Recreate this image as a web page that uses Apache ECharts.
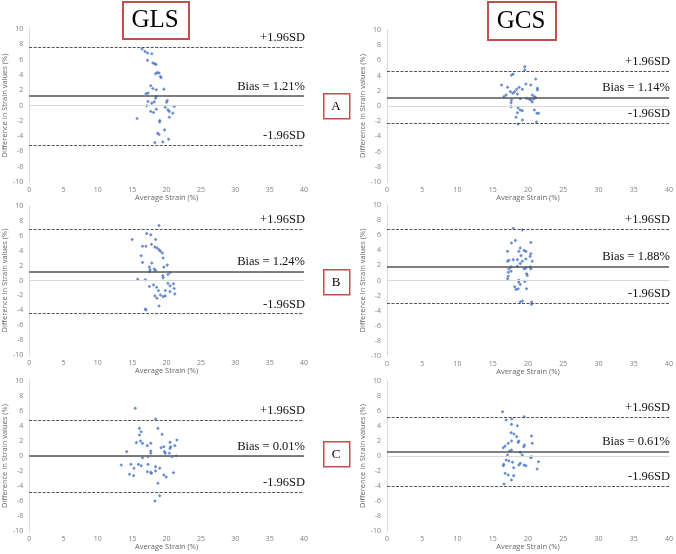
<!DOCTYPE html>
<html>
<head>
<meta charset="utf-8">
<script src="https://cdn.jsdelivr.net/npm/echarts@6/dist/echarts.min.js"></script>
<style>html,body{margin:0;padding:0;background:#fff}#c{width:676px;height:554px}</style>
</head>
<body>
<div id="c"></div>
<script>
// ---------------- DATA ----------------
const xTickMin = 0, xTickMax = 40, xTickStep = 5;
const yTickMin = -10, yTickMax = 10, yTickStep = 2;
const columnTitles = ["GLS", "GCS"];
const rowLabels = ["A", "B", "C"];
const xAxisTitle = "Average Strain (%)";
const yAxisTitle = "Difference in Strain values (%)";

// GLS A
const glsA_x = [16.43,16.86,17.23,17.85,17.23,18.0,18.27,18.46,18.65,18.4,18.9,19.1,19.2,17.7,18.0,18.5,19.6,17.3,17.0,18.4,18.5,20.1,20.0,17.3,17.85,18.2,17.1,21.1,19.8,18.5,20.2,20.4,17.7,18.1,20.9,20.4,15.7,19.0,19.0,19.7,18.7,18.9,20.3,19.45,18.3];
const glsA_y = [7.38,7.07,6.86,6.77,5.9,5.55,5.46,5.37,4.32,4.15,4.24,3.8,3.62,2.58,2.23,2.05,2.14,1.62,1.53,0.96,1.18,0.66,0.44,0.52,0.31,0.48,-0.04,-0.13,-0.22,-0.48,-0.57,-0.79,-0.79,-0.92,-1.0,-1.53,-1.7,-1.97,-2.14,-3.19,-3.62,-3.8,-4.41,-4.76,-4.85];
const glsA_limits = [7.59, 1.21, -5.17]; // +1.96SD, bias, -1.96SD

// GCS A
const gcsA_x = [19.55,19.55,17.9,17.66,21.1,16.24,19.7,20.4,17.1,18.74,21.34,21.34,19.2,18.4,17.5,18.1,17.85,16.9,18.5,16.6,20.6,20.9,19.8,20.2,20.4,20.8,21.1,18.9,17.66,17.6,20.6,17.6,18.6,18.9,19.2,20.9,18.5,21.25,21.5,18.3,19.2,21.2,18.6];
const gcsA_y = [5.18,4.74,4.21,4.04,3.55,2.76,2.89,2.76,2.46,2.46,2.32,2.1,2.19,2.19,1.89,1.89,1.67,1.45,1.58,1.23,1.45,1.23,1.0,0.88,0.79,0.92,1.1,0.96,0.79,0.44,0.53,-0.09,-0.26,-0.53,-0.61,-0.53,-0.88,-0.96,-0.96,-1.49,-1.84,-2.1,-2.37];
const gcsA_limits = [4.60, 1.14, -2.32];

// GLS B
const glsB_x = [18.9,17.1,17.7,15.0,18.4,17.8,16.5,17.0,18.3,18.6,18.9,19.1,19.4,16.3,19.5,16.5,17.85,20.1,19.6,17.5,17.6,18.2,18.4,17.5,20.5,20.2,19.45,19.5,15.8,16.9,20.2,21.0,18.1,20.5,17.5,18.55,21.1,18.8,19.8,20.5,21.2,19.1,18.3,18.6,19.5,19.8,18.9,16.9,17.0];
const glsB_y = [7.39,6.3,6.13,5.5,5.5,4.86,4.6,4.6,4.5,4.37,4.14,3.92,3.7,3.33,3.02,2.43,2.34,2.07,1.8,1.8,1.44,1.53,1.35,1.17,1.08,0.81,0.63,0.36,0.18,0.09,-0.36,-0.45,-0.59,-0.72,-0.81,-0.9,-1.08,-1.35,-1.35,-1.49,-1.8,-1.94,-2.07,-2.39,-2.16,-2.07,-3.42,-3.83,-3.96];
const glsB_limits = [6.94, 1.24, -4.46];

// GCS B
const gcsB_x = [17.9,19.2,18.2,17.66,20.4,18.9,18.7,19.45,19.7,17.1,20.4,20.3,19.0,19.7,18.5,17.9,17.3,17.1,19.2,20.6,18.9,17.6,18.5,19.7,19.45,20.3,20.4,17.3,17.2,17.6,19.8,19.9,17.2,17.1,18.7,18.7,19.55,18.9,18.1,18.6,18.3,19.8,19.2,18.9,20.5,20.5];
const gcsB_y = [6.93,6.71,5.31,4.96,5.04,4.3,3.86,3.99,3.86,3.86,3.55,3.2,3.29,2.85,2.76,2.76,2.68,2.54,2.54,2.54,2.24,1.8,1.89,1.67,1.54,1.8,1.54,1.54,1.1,1.23,0.88,0.66,0.57,0.22,0.04,-0.22,-0.13,-0.53,-0.83,-1.1,-1.18,-1.1,-2.72,-2.85,-2.85,-3.16];
const gcsB_limits = [6.75, 1.88, -2.99];

// GLS C
const glsC_x = [15.44,18.4,16.05,18.74,16.3,16.05,19.35,21.5,16.2,15.6,16.5,17.7,20.5,17.2,21.2,19.6,19.2,20.6,20.5,17.7,14.2,19.7,19.8,20.4,17.7,16.5,17.3,21.4,20.8,13.4,14.8,15.9,17.3,16.3,18.4,15.25,19.0,18.4,17.2,17.7,17.8,21.0,14.6,15.2,19.6,19.95,18.74,19.0,18.3];
const glsC_y = [6.36,4.93,3.69,3.69,3.24,2.8,2.89,2.13,2.0,1.78,1.69,1.69,1.82,1.38,1.38,1.24,1.11,1.24,1.02,0.67,0.58,0.58,0.36,0.36,0.36,-0.22,-0.09,0.0,-0.09,-1.2,-1.11,-1.11,-1.11,-1.29,-1.42,-1.64,-1.64,-2.0,-2.09,-2.18,-2.31,-2.22,-2.44,-2.62,-2.53,-2.8,-3.64,-5.29,-6.0];
const glsC_limits = [4.81, 0.01, -4.79];

// GCS C
const gcsC_x = [16.4,19.45,16.9,17.7,17.66,18.5,17.6,18.0,18.4,20.5,18.7,17.66,17.2,18.6,20.6,19.5,19.4,16.5,16.75,17.66,17.4,18.9,17.1,19.2,20.5,20.4,16.9,17.3,17.8,21.5,18.9,16.55,18.7,19.45,19.7,16.5,17.97,21.3,16.75,17.2,17.97,17.66,16.6];
const gcsC_y = [5.91,5.24,4.8,4.93,4.22,4.04,3.11,2.93,2.58,2.67,2.0,2.0,1.69,1.82,1.69,1.47,1.24,1.11,1.33,0.8,0.67,0.49,0.13,0.13,-0.09,-0.22,-0.53,-0.67,-0.84,-0.76,-0.98,-1.11,-1.2,-1.2,-1.29,-1.29,-1.56,-1.73,-2.31,-2.53,-2.62,-3.2,-3.73];
const gcsC_limits = [5.21, 0.61, -3.99];

// ---------------- LAYOUT ----------------
const panels = [
  {x: glsA_x, y: glsA_y, lim: glsA_limits, left: 22,  top: 29,  width: 282, height: 153},
  {x: gcsA_x, y: gcsA_y, lim: gcsA_limits, left: 387, top: 30,  width: 283, height: 152},
  {x: glsB_x, y: glsB_y, lim: glsB_limits, left: 22,  top: 206, width: 282, height: 149},
  {x: gcsB_x, y: gcsB_y, lim: gcsB_limits, left: 387, top: 205, width: 283, height: 151},
  {x: glsC_x, y: glsC_y, lim: glsC_limits, left: 22,  top: 381, width: 282, height: 150},
  {x: gcsC_x, y: gcsC_y, lim: gcsC_limits, left: 387, top: 381, width: 283, height: 150}
];

const serif = '"Liberation Serif","Times New Roman",serif';
const sans = '"Open Sans","Liberation Sans",sans-serif';
const tickColor = '#808080';

const grid = [], xAxis = [], yAxis = [], series = [];
panels.forEach((p, i) => {
  grid.push({left: p.left, top: p.top, width: p.width, height: p.height});
  xAxis.push({
    type: 'value', gridIndex: i, min: xTickMin, max: xTickMax, interval: xTickStep,
    axisLine: {show: false}, axisTick: {show: false}, splitLine: {show: false},
    axisLabel: {color: tickColor, fontSize: 7, fontFamily: sans, margin: 4},
    name: xAxisTitle, nameLocation: 'middle', nameGap: 11,
    nameTextStyle: {color: '#666', fontSize: 7.5, fontFamily: sans}
  });
  yAxis.push({
    type: 'value', gridIndex: i, min: yTickMin, max: yTickMax, interval: yTickStep,
    axisLine: {show: true, lineStyle: {color: '#d9d9d9', width: 1}},
    axisTick: {show: false}, splitLine: {show: false},
    axisLabel: {color: tickColor, fontSize: 7, fontFamily: sans, margin: 6},
    name: yAxisTitle, nameLocation: 'middle', nameGap: 14, nameRotate: 90,
    nameTextStyle: {color: '#666', fontSize: 7.5, fontFamily: sans}
  });
  const lblStyle = {show: true, position: 'insideEndTop', distance: [-1, 3],
    fontFamily: serif, fontSize: 12.5, color: '#111'};
  series.push({
    type: 'scatter', xAxisIndex: i, yAxisIndex: i,
    data: p.x.map((v, k) => [v, p.y[k]]),
    symbol: 'diamond', symbolSize: 3.6,
    itemStyle: {color: '#4472c4'},
    z: 3,
    markLine: {
      silent: true, symbol: ['none', 'none'], animation: false,
      data: [
        {yAxis: 0, lineStyle: {color: '#d9d9d9', type: 'solid', width: 1}, label: {show: false}},
        {yAxis: p.lim[0], lineStyle: {color: '#555', type: [3, 1.5], width: 1},
          label: Object.assign({}, lblStyle, {formatter: '+1.96SD'})},
        {yAxis: p.lim[1], lineStyle: {color: '#555', type: 'solid', width: 1.5},
          label: Object.assign({}, lblStyle, {formatter: 'Bias = ' + p.lim[1].toFixed(2) + '%'})},
        {yAxis: p.lim[2], lineStyle: {color: '#555', type: [3, 1.5], width: 1},
          label: Object.assign({}, lblStyle, {formatter: '-1.96SD'})}
      ]
    }
  });
});

const boxColor = '#c0504d';
const graphic = [];
function boxedText(x, y, w, h, txt, fs, lw) {
  graphic.push({type: 'rect', left: x, top: y, shape: {width: w, height: h},
    style: {fill: '#fff', stroke: boxColor, lineWidth: lw}, z: 10});
  graphic.push({type: 'text', x: x + w / 2, y: y + h / 2 + 1,
    style: {text: txt, font: fs + 'px ' + serif, fill: '#000', align: 'center', verticalAlign: 'middle'}, z: 11});
}
boxedText(122, 1, 66, 37, columnTitles[0], 25, 2);
boxedText(487, 1, 68, 38, columnTitles[1], 25, 2);
boxedText(323, 93, 26, 25, rowLabels[0], 13, 1.5);
boxedText(323, 269, 26, 25, rowLabels[1], 13, 1.5);
boxedText(323, 441, 26, 25, rowLabels[2], 13, 1.5);

const chart = echarts.init(document.getElementById('c'), null, {renderer: 'canvas'});
chart.setOption({animation: false, backgroundColor: '#fff', grid, xAxis, yAxis, series, graphic});
</script>
</body>
</html>
